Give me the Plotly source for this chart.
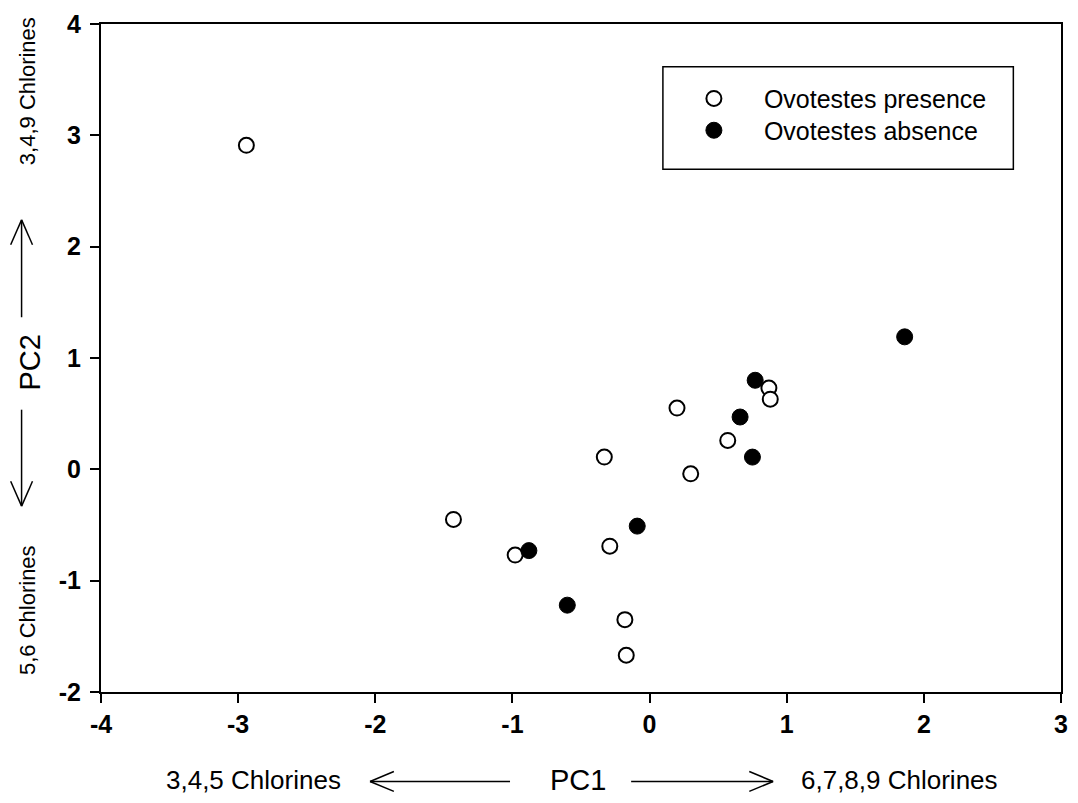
import plotly.graph_objects as go

# ---- data ----
presence_pc1 = [-2.94, -1.43, -0.98, -0.33, -0.29, -0.18, -0.17, 0.20, 0.30, 0.57, 0.87, 0.88]
presence_pc2 = [2.91, -0.45, -0.77, 0.11, -0.69, -1.35, -1.67, 0.55, -0.04, 0.26, 0.73, 0.63]
absence_pc1 = [-0.88, -0.60, -0.09, 0.66, 0.77, 0.75, 1.86]
absence_pc2 = [-0.73, -1.22, -0.51, 0.47, 0.80, 0.11, 1.19]
series_names = ["Ovotestes presence", "Ovotestes absence"]
x_ticks = [-4, -3, -2, -1, 0, 1, 2, 3]
y_ticks = [-2, -1, 0, 1, 2, 3, 4]

W, H = 1078, 803
ML, MR, MT, MB = 101, 10, 20, 111
PW, PH = W - ML - MR, H - MT - MB


def px(xp):
    return (xp - ML) / PW


def py(yp):
    return (H - MB - yp) / PH


FONT = "Liberation Sans, Arial, sans-serif"

fig = go.Figure()
fig.add_trace(go.Scatter(
    x=presence_pc1, y=presence_pc2, mode="markers", name=series_names[0],
    marker=dict(symbol="circle", size=15, color="white", line=dict(color="black", width=2)),
    legend="legend",
))
fig.add_trace(go.Scatter(
    x=absence_pc1, y=absence_pc2, mode="markers", name=series_names[1],
    marker=dict(symbol="circle", size=16, color="black", line=dict(color="black", width=1)),
    legend="legend2",
))

axis_common = dict(
    showline=True, linecolor="black", linewidth=2, mirror=True,
    ticks="outside", ticklen=9, tickwidth=1.5, tickcolor="black",
    showgrid=False, zeroline=False,
    tickfont=dict(family=FONT, size=25, color="black", weight="bold"),
)
fig.update_xaxes(range=[-4, 3], tickvals=x_ticks, ticktext=[str(v) for v in x_ticks],
                 ticklabelstandoff=0, **axis_common)
fig.update_yaxes(range=[-2, 4], tickvals=y_ticks, ticktext=[str(v) for v in y_ticks],
                 ticklabelstandoff=4, **axis_common)

annotations = [
    dict(text="3,4,9 Chlorines", x=px(27), y=py(88), textangle=-90, font=dict(size=22, family=FONT)),
    dict(text="PC2", x=px(29), y=py(361), textangle=-90, font=dict(size=29, family=FONT)),
    dict(text="5,6 Chlorines", x=px(27), y=py(610), textangle=-90, font=dict(size=22, family=FONT)),
    dict(text="3,4,5 Chlorines", x=px(255), y=py(781), font=dict(size=26, family=FONT)),
    dict(text="PC1", x=px(581), y=py(781), font=dict(size=29, family=FONT)),
    dict(text="6,7,8,9 Chlorines", x=px(905), y=py(781), font=dict(size=26, family=FONT)),
]
for a in annotations:
    a.update(xref="paper", yref="paper", showarrow=False, xanchor="center", yanchor="middle")
    a["font"]["color"] = "black"

shapes = []


def seg(x0, y0, x1, y1):
    shapes.append(dict(type="line", xref="paper", yref="paper",
                       x0=px(x0), y0=py(y0), x1=px(x1), y1=py(y1),
                       line=dict(color="black", width=1.5)))


# left: up arrow
seg(21, 315, 21, 217); seg(21, 217, 10, 242); seg(21, 217, 32, 242)
# left: down arrow
seg(21, 408, 21, 505); seg(21, 505, 10, 480); seg(21, 505, 32, 480)
# bottom: left arrow
seg(513, 782, 372, 782); seg(372, 782, 396, 772); seg(372, 782, 396, 792)
# bottom: right arrow
seg(635, 782, 778, 782); seg(778, 782, 754, 772); seg(778, 782, 754, 792)
# legend box
shapes.append(dict(type="rect", xref="paper", yref="paper",
                   x0=px(667), y0=py(166), x1=px(1020), y1=py(63),
                   line=dict(color="black", width=1.5), fillcolor="rgba(0,0,0,0)"))

legend_common = dict(xanchor="left", yanchor="top", bgcolor="rgba(0,0,0,0)", borderwidth=0,
                     font=dict(size=25, family=FONT, color="black"), itemwidth=90)

fig.update_layout(
    width=W, height=H,
    margin=dict(l=ML, r=MR, t=MT, b=MB),
    paper_bgcolor="white", plot_bgcolor="white",
    font=dict(family=FONT, color="black"),
    showlegend=True,
    legend=dict(x=px(668), y=py(72), **legend_common),
    legend2=dict(x=px(668), y=py(104), **legend_common),
    annotations=annotations,
    shapes=shapes,
)

fig.write_html("out.html")
